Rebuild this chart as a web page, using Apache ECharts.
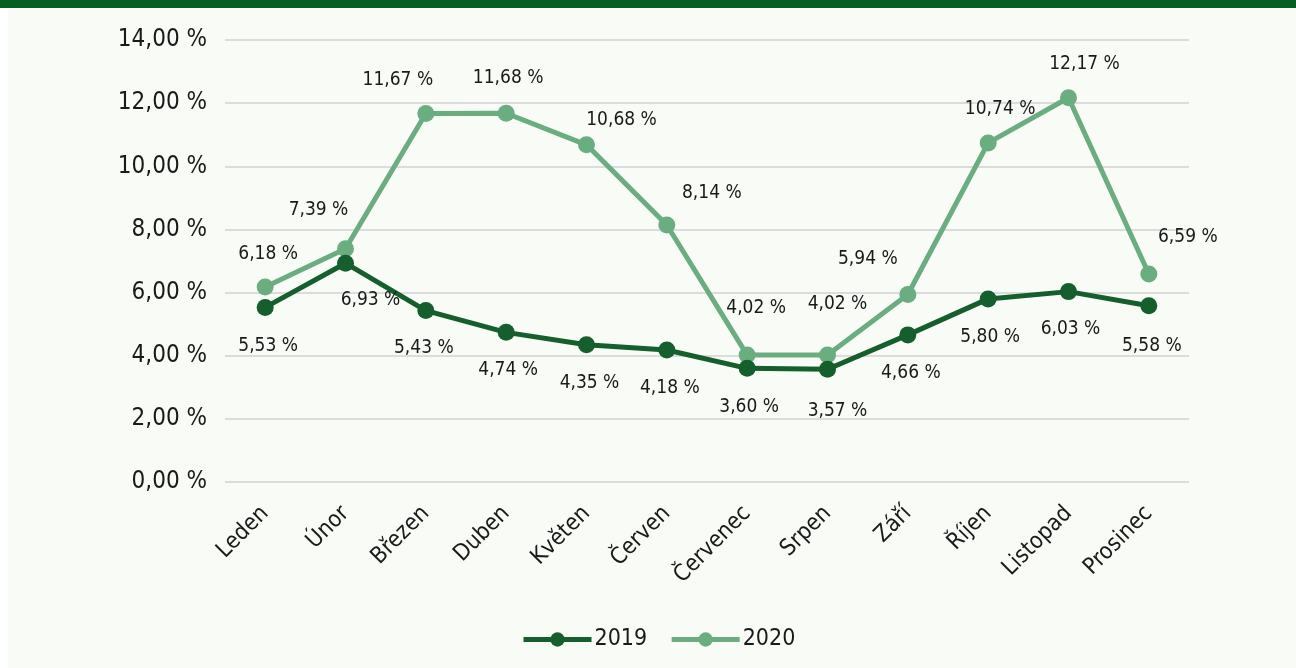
<!DOCTYPE html>
<html><head><meta charset="utf-8">
<script src="https://cdn.jsdelivr.net/npm/echarts@6/dist/echarts.min.js"></script>
<style>
html,body{margin:0;padding:0;background:#fff;}
#wrap{position:absolute;left:0;top:0;width:1296px;height:668px;background:#fff;}
#panel{position:absolute;left:8px;top:0;width:1288px;height:668px;background:#f9fbf7;}
#bar{position:absolute;left:0;top:0;width:1296px;height:8px;background:#075e22;}
#chart{position:absolute;left:0;top:0;width:1296px;height:668px;}
</style></head>
<body>
<div id="wrap"><div id="panel"></div><div id="bar"></div><div id="chart"></div></div>
<script>
const months = ['Leden','Únor','Březen','Duben','Květen','Červen','Červenec','Srpen','Září','Říjen','Listopad','Prosinec'];
const values2019 = [5.53,6.93,5.43,4.74,4.35,4.18,3.60,3.57,4.66,5.80,6.03,5.58];
const values2020 = [6.18,7.39,11.67,11.68,10.68,8.14,4.02,4.02,5.94,10.74,12.17,6.59];
const seriesNames = ['2019','2020'];
const yTicks = {min:0, max:14, interval:2};

// label placement offsets (style only)
const off2019 = [[3,39],[25,37],[-2,37],[2,38],[3,38],[3,38],[2,39],[10,42],[3,38],[2,38],[2,37],[3,40]];
const off2020 = [[3,-33],[-27,-39],[-28,-33],[2,-35],[35,-25],[45,-32],[9,-47],[10,-51],[-40,-35],[12,-34],[16,-34],[39,-37]];

const fmt = v => v.toFixed(2).replace('.', ',') + ' %';
const FONT = 'DejaVu Sans Condensed';
const c2019 = '#145f2b', c2020 = '#6aae80';

function mk(name, vals, offs, color){
  return {
    name, type:'line', data: vals.map((v,i)=>({value:v, label:{offset:offs[i]}})),
    symbol:'circle', symbolSize:17, lineStyle:{width:5,color}, itemStyle:{color},
    label:{show:true, position:'inside', align:'center', verticalAlign:'middle', color:'#1a1a1a',
      fontFamily:FONT, fontSize:19, formatter:p=>fmt(p.value)},
    emphasis:{disabled:true}, animation:false, z: name==='2019'?3:2
  };
}

const chart = echarts.init(document.getElementById('chart'), null, {renderer:'canvas'});
chart.setOption({
  backgroundColor:'transparent',
  animation:false,
  grid:{left:225, right:107, top:40, bottom:186, containLabel:false},
  legend:{data:seriesNames, bottom:12, left:516, itemWidth:68, itemHeight:18, itemGap:22,
    lineStyle:{width:5}, itemStyle:{borderWidth:0},
    textStyle:{fontFamily:FONT, fontSize:23, color:'#1a1a1a', padding:[0,0,0,-2]}},
  xAxis:{type:'category', data:months, boundaryGap:true,
    axisLine:{show:false}, axisTick:{show:false},
    axisLabel:{rotate:45, fontFamily:FONT, fontSize:23, color:'#1a1a1a', margin:28, interval:0}},
  yAxis:{type:'value', min:yTicks.min, max:yTicks.max, interval:yTicks.interval,
    axisLine:{show:false}, axisTick:{show:false},
    splitLine:{lineStyle:{color:'#dcdcdc', width:2}},
    axisLabel:{formatter:v=>fmt(v), fontFamily:FONT, fontSize:24, color:'#1a1a1a', margin:18}},
  series:[mk('2019', values2019, off2019, c2019), mk('2020', values2020, off2020, c2020)]
});
</script>
</body></html>
